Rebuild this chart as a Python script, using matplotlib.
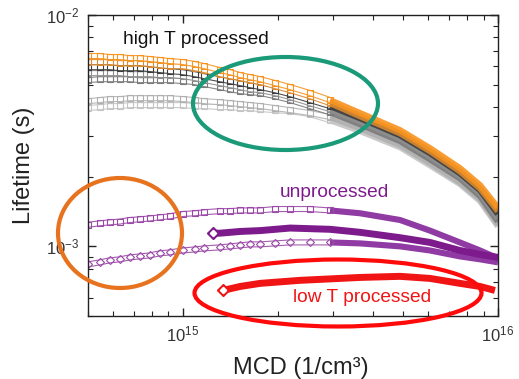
import matplotlib
matplotlib.use('Agg')
import matplotlib.pyplot as plt
from matplotlib.patches import Ellipse

plt.rcParams['font.family'] = ['Liberation Sans', 'DejaVu Sans']

# ---- data (MCD in 1/cm^3, lifetime in s) ----
mcd_high = [5.0e14, 5.45e14, 5.86e14, 6.31e14, 6.79e14, 7.30e14, 7.85e14, 8.45e14,
            9.09e14, 1.0e15, 1.09e15, 1.17e15, 1.31e15, 1.41e15, 1.52e15, 1.63e15,
            1.76e15, 1.96e15, 2.19e15, 2.53e15, 2.93e15, 3.65e15, 4.89e15, 6.08e15,
            7.57e15, 8.77e15, 1.0e16]

tau_orange1 = [6.65, 6.65, 6.58, 6.58, 6.51, 6.51, 6.45, 6.39, 6.32, 6.26, 6.14, 6.01, 5.78,
               5.66, 5.50, 5.39, 5.28, 5.08, 4.88, 4.60, 4.29, 3.77, 3.18, 2.66, 2.18, 1.84, 1.47]
tau_orange2 = [6.26, 6.26, 6.26, 6.20, 6.20, 6.20, 6.14, 6.07, 6.01, 6.01, 5.89, 5.78, 5.55,
               5.44, 5.34, 5.23, 5.13, 4.93, 4.73, 4.46, 4.16, 3.65, 3.08, 2.58, 2.11, 1.78, 1.42]
tau_black = [5.95, 5.95, 5.95, 5.89, 5.89, 5.89, 5.84, 5.78, 5.72, 5.66, 5.55, 5.44, 5.28,
             5.18, 5.08, 4.98, 4.88, 4.73, 4.55, 4.29, 4.04, 3.58, 3.02, 2.53, 2.07, 1.75, 1.38]
tau_gray = [5.61, 5.61, 5.61, 5.61, 5.55, 5.55, 5.55, 5.50, 5.50, 5.44, 5.34, 5.23, 5.08,
            4.98, 4.88, 4.78, 4.73, 4.60, 4.42, 4.16, 3.92, 3.48, 2.93, 2.45, 2.01, 1.70, 1.32]
tau_dgray = [5.23, 5.28, 5.28, 5.28, 5.28, 5.23, 5.23, 5.23, 5.23, 5.18, 5.13, 5.03, 4.88,
             4.78, 4.69, 4.64, 4.60, 4.46, 4.29, 4.04, 3.80, 3.37, 2.85, 2.38, 1.97, 1.65, 1.28]
tau_lgray1 = [4.24, 4.29, 4.33, 4.33, 4.37, 4.37, 4.37, 4.37, 4.37, 4.33, 4.29, 4.24, 4.20,
              4.16, 4.12, 4.08, 4.04, 3.96, 3.88, 3.77, 3.62, 3.24, 2.74, 2.29, 1.89, 1.60, 1.24]
tau_lgray2 = [3.96, 4.00, 4.04, 4.04, 4.08, 4.08, 4.08, 4.08, 4.08, 4.08, 4.04, 4.04, 4.00,
              4.00, 3.96, 3.96, 3.92, 3.88, 3.84, 3.73, 3.51, 3.15, 2.68, 2.24, 1.86, 1.57, 1.22]

tau_unproc_sq = [1.24, 1.258, 1.27, 1.28, 1.30, 1.309, 1.32, 1.335, 1.349, 1.38, 1.39, 1.404,
                 1.42, 1.42, 1.43, 1.43, 1.43, 1.45, 1.45, 1.45, 1.43, 1.39, 1.30, 1.17, 1.04,
                 0.96, 0.887]
tau_unproc_dia = [0.836, 0.853, 0.870, 0.879, 0.896, 0.905, 0.914, 0.933, 0.942, 0.960, 0.970,
                  0.980, 0.990, 1.00, 1.01, 1.02, 1.02, 1.03, 1.04, 1.04, 1.04, 1.03, 1.00,
                  0.96, 0.905, 0.879, 0.853]

mcd_unproc_fill = [1.245e15, 1.31e15, 1.52e15, 1.76e15, 2.19e15, 2.93e15, 3.65e15, 4.89e15,
                   6.08e15, 7.57e15, 8.77e15, 1.0e16]
tau_unproc_fill = [1.14, 1.14, 1.16, 1.17, 1.20, 1.185, 1.15, 1.09, 1.04, 0.96, 0.923, 0.896]

mcd_lowT = [1.34e15, 1.52e15, 1.76e15, 2.35e15, 3.65e15, 4.89e15, 6.08e15, 7.57e15, 8.77e15,
            9.78e15]
tau_lowT = [0.645, 0.671, 0.692, 0.713, 0.734, 0.742, 0.727, 0.692, 0.671, 0.645]

N_SPARSE = 21  # points drawn as separate hollow markers, the rest is a dense band


def hollow_curve(ax, x, tau, color, marker, dense_color=None, scale=1e-3):
    y = [t * scale for t in tau]
    ax.plot(x[:N_SPARSE], y[:N_SPARSE], color=color, lw=4.4, solid_capstyle='butt',
            solid_joinstyle='round', alpha=0.9)
    ax.plot(x[N_SPARSE - 1:], y[N_SPARSE - 1:], color=dense_color or color, lw=4.4,
            solid_capstyle='butt', solid_joinstyle='round', alpha=0.9)
    ax.plot(x[:N_SPARSE], y[:N_SPARSE], color='white', lw=2.8, solid_capstyle='butt',
            solid_joinstyle='round')
    ax.plot(x[:N_SPARSE], y[:N_SPARSE], ls='none', marker=marker, ms=4.4,
            mfc='none', mec=color, mew=0.8)


def filled_curve(ax, x, tau, color, scale=1e-3):
    y = [t * scale for t in tau]
    ax.plot(x, y, color=color, lw=5, solid_capstyle='butt', solid_joinstyle='round')
    ax.plot(x[0], y[0], marker='D', ms=6.5, color=color, ls='none')
    ax.plot(x[0], y[0], marker='D', ms=3.2, color='white', ls='none')


fig = plt.figure(figsize=(5.19, 3.79), dpi=100)
ax = fig.add_axes([0.1696, 0.1662, 0.7899, 0.7942])
ax.set_xscale('log')
ax.set_yscale('log')

c_orange = '#f7931e'
c_orange2 = '#d9892f'
c_purple = '#7d1a8c'
c_purple_l = '#9a4aa6'
c_red = '#f01414'

hollow_curve(ax, mcd_high, tau_lgray2, '#c4c4c4', 's')
hollow_curve(ax, mcd_high, tau_lgray1, '#b0b0b0', 's')
hollow_curve(ax, mcd_high, tau_dgray, '#7a7a7a', 's')
hollow_curve(ax, mcd_high, tau_gray, '#8e8e8e', 's')
hollow_curve(ax, mcd_high, tau_black, '#3c3c3c', 's')
hollow_curve(ax, mcd_high, tau_orange2, c_orange2, 's')
hollow_curve(ax, mcd_high, tau_orange1, c_orange, 's')

hollow_curve(ax, mcd_high, tau_unproc_sq, c_purple_l, 's', dense_color='#84269a')
hollow_curve(ax, mcd_high, tau_unproc_dia, c_purple_l, 'D', dense_color='#84269a')
filled_curve(ax, mcd_unproc_fill, tau_unproc_fill, c_purple)
filled_curve(ax, mcd_lowT, tau_lowT, c_red)

ax.set_xlim(5e14, 1e16)
ax.set_ylim(5e-4, 1e-2)
ax.set_xticks([1e15, 1e16])
ax.set_yticks([1e-3, 1e-2])
ax.tick_params(which='both', direction='in', top=True, right=True, color='#222222',
               labelsize=12, labelcolor='#333333', pad=6)
ax.tick_params(which='major', length=6, width=1)
ax.tick_params(which='minor', length=3.5, width=0.8)
for s in ax.spines.values():
    s.set_linewidth(1.0)
    s.set_color('#222222')

ax.set_xlabel('MCD (1/cm³)', fontsize=17, color='#222222', labelpad=10)
ax.xaxis.set_label_coords(0.52, -0.135)
ax.set_ylabel('Lifetime (s)', fontsize=17, color='#222222', labelpad=4)
ax.yaxis.set_label_coords(-0.13, 0.5)

ax.text(0.085, 0.917, 'high T processed', transform=ax.transAxes, fontsize=13.8,
        color='#111111', ha='left', va='center')
ax.text(0.468, 0.409, 'unprocessed', transform=ax.transAxes, fontsize=13.8,
        color=c_purple, ha='left', va='center')
ax.text(0.50, 0.06, 'low T processed', transform=ax.transAxes, fontsize=13.8,
        color=c_red, ha='left', va='center')

W, H = 519.0, 379.0


def fig_ellipse(cx, cy, w, h, color):
    e = Ellipse((cx / W, 1 - cy / H), w / W, h / H, transform=fig.transFigure,
                fill=False, edgecolor=color, lw=3, clip_on=False)
    fig.patches.append(e)


fig_ellipse(285.5, 103.5, 185, 93, '#1a9a78')
fig_ellipse(120, 233, 124, 110, '#e8731e')
fig_ellipse(338, 293, 287, 67, '#ff0a0a')

fig.savefig('out.png', dpi=100)
